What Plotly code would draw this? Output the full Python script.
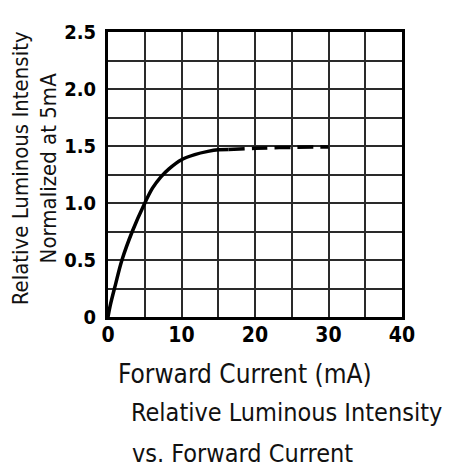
import plotly.graph_objects as go

# Data
current_solid = [0, 0.3, 1.0, 1.9, 3.3, 4.9, 6.05, 7.2, 8.3, 10.0, 11.8, 13.6, 15.0, 16.4]
intensity_solid = [0, 0.1, 0.28, 0.5, 0.75, 0.985, 1.13, 1.23, 1.30, 1.38, 1.425, 1.453, 1.467, 1.47]
current_dashed = [16.4, 20.0, 25.0, 30.0]
intensity_dashed = [1.47, 1.48, 1.488, 1.492]

grid_x = [0, 5, 10, 15, 20, 25, 30, 35, 40]
x_tick_labels = ["0", "", "10", "", "20", "", "30", "", "40"]
grid_y = [0, 0.25, 0.5, 0.75, 1.0, 1.25, 1.5, 1.75, 2.0, 2.25, 2.5]
y_tick_labels = ["0", "", "0.5", "", "1.0", "", "1.5", "", "2.0", "", "2.5"]

x_title = "Forward Current (mA)"
y_title = "Relative Luminous Intensity<br>Normalized at 5mA"
caption_1 = "Relative Luminous Intensity"
caption_2 = "vs. Forward Current"

FONT = "Liberation Sans Narrow, DejaVu Sans Condensed, Arial Narrow, sans-serif"

fig = go.Figure()
fig.add_trace(go.Scatter(x=current_solid, y=intensity_solid, mode="lines",
                         line=dict(color="black", width=3.5, shape="spline", smoothing=1.0),
                         showlegend=False, hoverinfo="skip"))
fig.add_trace(go.Scatter(x=current_dashed, y=intensity_dashed, mode="lines",
                         line=dict(color="black", width=3.5, dash="16px,7px", shape="spline"),
                         showlegend=False, hoverinfo="skip"))

axis_common = dict(showgrid=True, gridcolor="#2a2a2a", gridwidth=2,
                   showline=True, linecolor="black", linewidth=3, mirror=True,
                   zeroline=False, ticks="", fixedrange=True)

fig.update_xaxes(range=[0, 40], tickmode="array", tickvals=grid_x, ticktext=x_tick_labels,
                 ticklabelstandoff=-3, **axis_common,
                 tickfont=dict(family=FONT, size=21, color="black", weight="bold"))
fig.update_yaxes(range=[0, 2.5], tickmode="array", tickvals=grid_y, ticktext=y_tick_labels,
                 ticklabelstandoff=5, **axis_common,
                 tickfont=dict(family=FONT, size=20, color="black", weight="bold"))

annotations = [
    dict(text=x_title, x=0.466, y=-0.20, xref="paper", yref="paper",
         xanchor="center", yanchor="middle", showarrow=False,
         font=dict(family=FONT, size=26, color="#111111")),
    dict(text=caption_1, x=0.072, y=-0.334, xref="paper", yref="paper",
         xanchor="left", yanchor="middle", showarrow=False,
         font=dict(family=FONT, size=25, color="#111111")),
    dict(text=caption_2, x=0.075, y=-0.48, xref="paper", yref="paper",
         xanchor="left", yanchor="middle", showarrow=False,
         font=dict(family=FONT, size=25, color="#111111")),
    dict(text=y_title, x=-0.25, y=0.52, xref="paper", yref="paper",
         xanchor="center", yanchor="middle", showarrow=False, textangle=-90,
         font=dict(family=FONT, size=22, color="#111111")),
]

# The page body adds an 8px margin, so the figure is 8px smaller on each axis
fig.update_layout(width=443, height=468,
                  margin=dict(l=100, r=49, t=15, b=159),
                  paper_bgcolor="white", plot_bgcolor="white",
                  annotations=annotations)

fig.write_html("out.html")
